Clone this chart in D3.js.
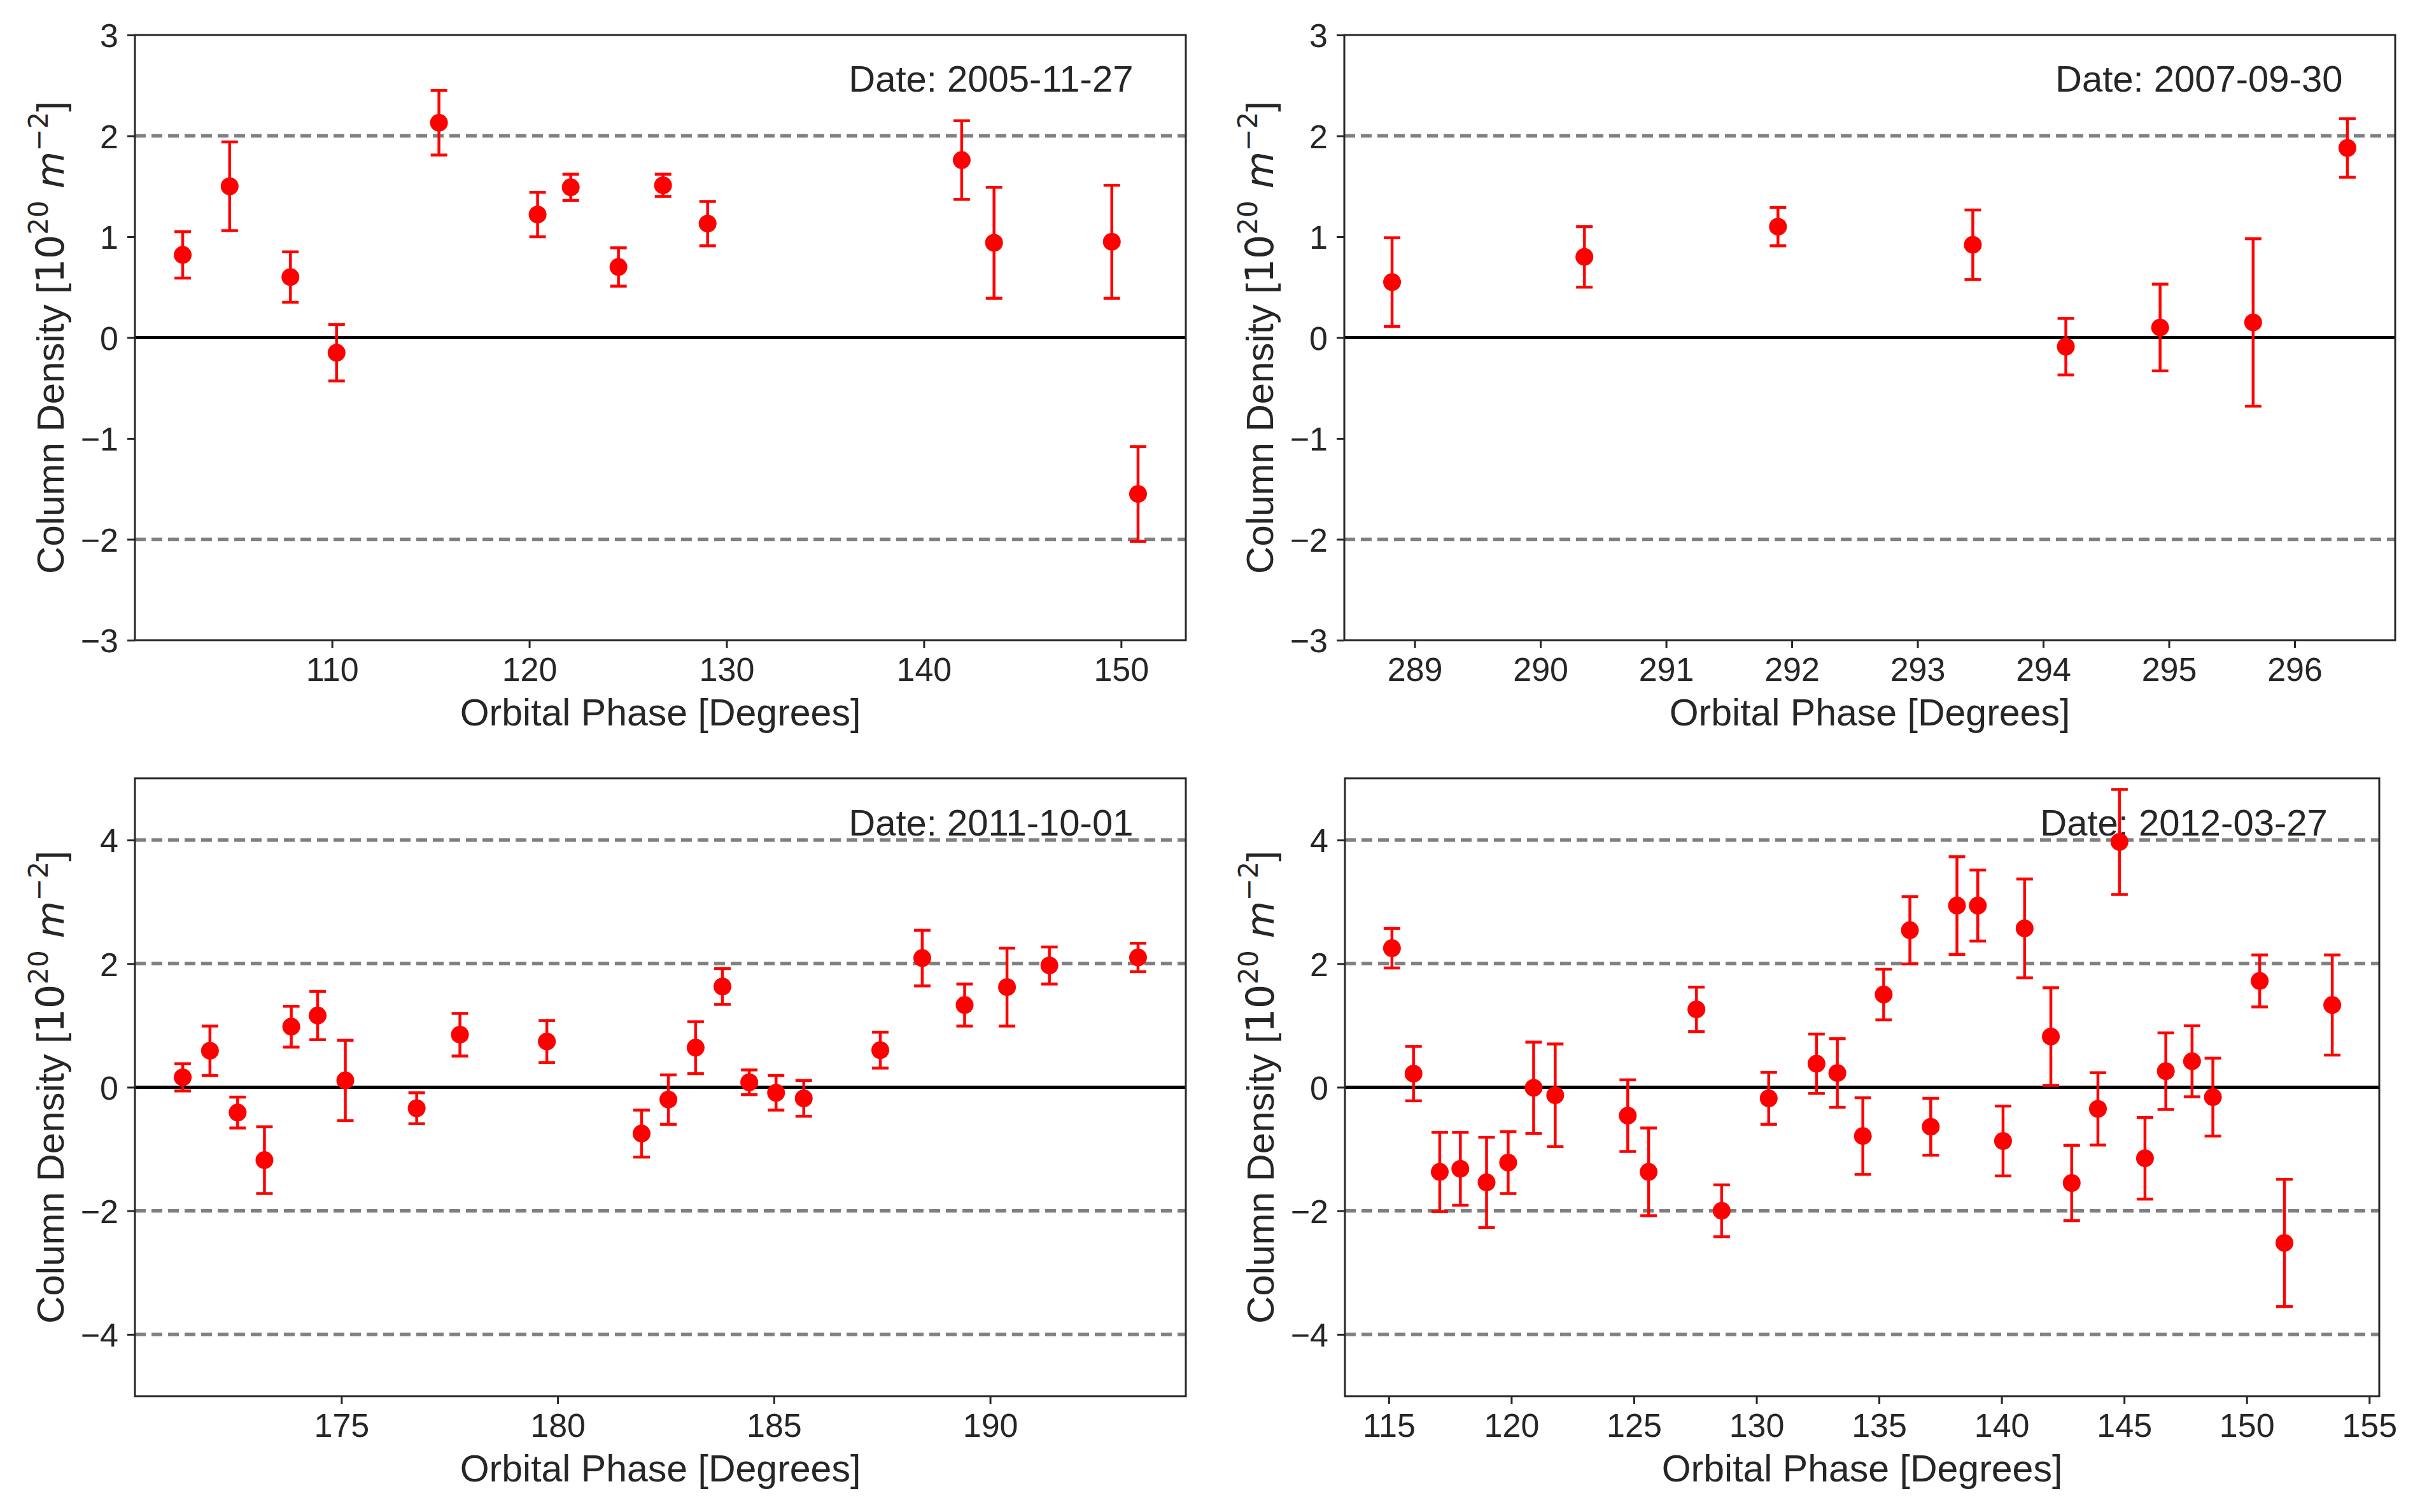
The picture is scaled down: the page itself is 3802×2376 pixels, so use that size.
<!DOCTYPE html>
<html>
<head>
<meta charset="utf-8">
<script src="https://cdn.jsdelivr.net/npm/d3@7"></script>
<style>
  html, body { margin: 0; padding: 0; background: white; }
</style>
</head>
<body>
<div id="chart"></div>
<script>
/* global d3 */

// 2005-11-27
var phase2005 = [102.43, 104.81, 107.89, 110.23, 115.42, 120.42, 122.10, 124.52, 126.78, 129.04, 141.92, 143.56, 149.53, 150.86];
var density2005 = [0.82, 1.50, 0.60, -0.15, 2.13, 1.22, 1.49, 0.70, 1.51, 1.13, 1.76, 0.94, 0.95, -1.55];
var error2005 = [0.23, 0.44, 0.25, 0.28, 0.32, 0.22, 0.13, 0.19, 0.11, 0.22, 0.39, 0.55, 0.56, 0.47];

// 2007-09-30
var phase2007 = [288.82, 290.35, 291.89, 293.44, 294.18, 294.93, 295.67, 296.42];
var density2007 = [0.55, 0.80, 1.10, 0.92, -0.09, 0.10, 0.15, 1.88];
var error2007 = [0.44, 0.30, 0.19, 0.345, 0.28, 0.43, 0.83, 0.29];

// 2011-10-01
var phase2011 = [171.33, 171.96, 172.60, 173.22, 173.84, 174.45, 175.09, 176.74, 177.74, 179.75, 181.94, 182.56,
  183.19, 183.81, 184.43, 185.05, 185.69, 187.46, 188.43, 189.41, 190.39, 191.37, 193.42];
var density2011 = [0.16, 0.59, -0.41, -1.18, 0.98, 1.16, 0.11, -0.34, 0.85, 0.74, -0.75, -0.20,
  0.64, 1.63, 0.08, -0.09, -0.18, 0.60, 2.09, 1.33, 1.62, 1.97, 2.10];
var error2011 = [0.22, 0.40, 0.25, 0.54, 0.33, 0.39, 0.65, 0.25, 0.345, 0.34, 0.38, 0.40,
  0.42, 0.29, 0.20, 0.28, 0.29, 0.29, 0.45, 0.34, 0.63, 0.30, 0.23];

// 2012-03-27
var phase2012 = [115.13, 116.01, 117.08, 117.92, 118.99, 119.87, 120.91, 121.79, 124.75, 125.60, 127.55, 128.58,
  130.50, 132.45, 133.30, 134.34, 135.19, 136.26, 137.11, 138.18, 139.03, 140.06, 140.94, 142.01,
  142.86, 143.93, 144.81, 145.85, 146.70, 147.77, 148.62, 150.53, 151.54, 153.49];
var density2012 = [2.25, 0.22, -1.37, -1.32, -1.54, -1.22, -0.01, -0.13, -0.46, -1.37, 1.26, -2.00,
  -0.18, 0.38, 0.23, -0.79, 1.50, 2.54, -0.64, 2.94, 2.94, -0.87, 2.57, 0.82,
  -1.55, -0.35, 3.97, -1.15, 0.26, 0.42, -0.16, 1.72, -2.52, 1.33];
var error2012 = [0.32, 0.44, 0.64, 0.59, 0.73, 0.50, 0.74, 0.83, 0.58, 0.71, 0.36, 0.42,
  0.42, 0.48, 0.555, 0.62, 0.41, 0.545, 0.46, 0.79, 0.575, 0.565, 0.80, 0.79,
  0.61, 0.585, 0.85, 0.66, 0.62, 0.575, 0.63, 0.42, 1.03, 0.81];

// ticks and reference lines
var xTicks2005 = [110, 120, 130, 140, 150];
var xTicks2007 = [289, 290, 291, 292, 293, 294, 295, 296];
var xTicks2011 = [175, 180, 185, 190];
var xTicks2012 = [115, 120, 125, 130, 135, 140, 145, 150, 155];
var yTicksTop = [-3, -2, -1, 0, 1, 2, 3];
var yTicksBottom = [-4, -2, 0, 2, 4];
var refLinesTop = [-2, 2];
var refLinesBottom = [-4, -2, 2, 4];

var cd = cd || {};

cd.WIDTH = 3802;
cd.HEIGHT = 2376;
cd.INK = '#262626';
cd.SANS = '"Liberation Sans", Arial, sans-serif';
cd.MATH = '"DejaVu Sans", sans-serif';

cd.init = function() {
  'use strict';

  cd.svg = d3.select('#chart')
    .append('svg')
    .attr('width', cd.WIDTH)
    .attr('height', cd.HEIGHT)
    .style('background', 'white');

  cd.drawPanel({ left: 212, right: 1863, top: 55, bottom: 1006 },
    '2005-11-27', phase2005, density2005, error2005, xTicks2005, [-3, 3], yTicksTop, refLinesTop);
  cd.drawPanel({ left: 2112, right: 3763, top: 55, bottom: 1006 },
    '2007-09-30', phase2007, density2007, error2007, xTicks2007, [-3, 3], yTicksTop, refLinesTop);
  cd.drawPanel({ left: 212, right: 1863, top: 1223, bottom: 2194 },
    '2011-10-01', phase2011, density2011, error2011, xTicks2011, [-5, 5], yTicksBottom, refLinesBottom);
  cd.drawPanel({ left: 2113, right: 3738, top: 1223, bottom: 2194 },
    '2012-03-27', phase2012, density2012, error2012, xTicks2012, [-5, 5], yTicksBottom, refLinesBottom);
};

cd.drawPanel = function(box, date, phase, density, error, xTicks, yDomain, yTicks, refLines) {
  'use strict';

  var w = box.right - box.left;
  var h = box.bottom - box.top;

  // matplotlib style 5% auto margin on x
  var ext = d3.extent(phase);
  var pad = (ext[1] - ext[0]) * 0.05;
  var x = d3.scaleLinear().domain([ext[0] - pad, ext[1] + pad]).range([0, w]);
  var y = d3.scaleLinear().domain(yDomain).range([h, 0]);

  var g = cd.svg.append('g')
    .attr('transform', 'translate(' + box.left + ',' + box.top + ')');

  // axes
  var xAxis = g.append('g')
    .attr('transform', 'translate(0,' + h + ')')
    .call(d3.axisBottom(x).tickValues(xTicks).tickFormat(d3.format('d'))
      .tickSize(12).tickPadding(15));
  var yAxis = g.append('g')
    .call(d3.axisLeft(y).tickValues(yTicks).tickFormat(d3.format('d'))
      .tickSize(12).tickPadding(14));

  [xAxis, yAxis].forEach(function(ax) {
    ax.select('.domain').remove();
    ax.selectAll('line').attr('stroke', cd.INK).attr('stroke-width', 3);
    ax.selectAll('text')
      .attr('fill', cd.INK)
      .style('font-family', cd.SANS)
      .style('font-size', '52px');
  });
  yAxis.selectAll('text').attr('dy', '0.36em');

  // dashed reference lines and zero line
  g.selectAll('.ref')
    .data(refLines)
    .enter()
    .append('line')
    .attr('x1', 0)
    .attr('x2', w)
    .attr('y1', function(d) { return y(d); })
    .attr('y2', function(d) { return y(d); })
    .attr('stroke', 'gray')
    .attr('stroke-width', 5.5)
    .attr('stroke-dasharray', '17,9');

  g.append('line')
    .attr('x1', 0)
    .attr('x2', w)
    .attr('y1', y(0))
    .attr('y2', y(0))
    .attr('stroke', 'black')
    .attr('stroke-width', 5);

  // date label
  g.append('text')
    .attr('x', w * 0.95)
    .attr('y', h * 0.05 + 41)
    .attr('text-anchor', 'end')
    .attr('fill', cd.INK)
    .style('font-family', cd.SANS)
    .style('font-size', '58px')
    .text('Date: ' + date);

  // error bars
  var pts = phase.map(function(p, i) {
    return { x: p, y: density[i], e: error[i] };
  });

  var bars = g.selectAll('.bar')
    .data(pts)
    .enter()
    .append('g')
    .attr('stroke', 'red')
    .attr('stroke-width', 4.5);

  bars.append('line')
    .attr('x1', function(d) { return x(d.x); })
    .attr('x2', function(d) { return x(d.x); })
    .attr('y1', function(d) { return y(d.y + d.e); })
    .attr('y2', function(d) { return y(d.y - d.e); });

  bars.append('line')
    .attr('x1', function(d) { return x(d.x) - 13; })
    .attr('x2', function(d) { return x(d.x) + 13; })
    .attr('y1', function(d) { return y(d.y + d.e); })
    .attr('y2', function(d) { return y(d.y + d.e); });

  bars.append('line')
    .attr('x1', function(d) { return x(d.x) - 13; })
    .attr('x2', function(d) { return x(d.x) + 13; })
    .attr('y1', function(d) { return y(d.y - d.e); })
    .attr('y2', function(d) { return y(d.y - d.e); });

  g.selectAll('.dot')
    .data(pts)
    .enter()
    .append('circle')
    .attr('cx', function(d) { return x(d.x); })
    .attr('cy', function(d) { return y(d.y); })
    .attr('r', 14)
    .attr('fill', 'red');

  // frame
  g.append('rect')
    .attr('width', w)
    .attr('height', h)
    .attr('fill', 'none')
    .attr('stroke', cd.INK)
    .attr('stroke-width', 3);

  // axis labels
  g.append('text')
    .attr('x', w / 2)
    .attr('y', h + 134)
    .attr('text-anchor', 'middle')
    .attr('fill', cd.INK)
    .style('font-family', cd.SANS)
    .style('font-size', '59px')
    .text('Orbital Phase [Degrees]');

  var yl = g.append('text')
    .attr('transform', 'translate(-112,' + (h / 2) + ') rotate(-90)')
    .attr('text-anchor', 'middle')
    .attr('fill', cd.INK)
    .style('font-family', cd.SANS)
    .style('font-size', '60px');

  yl.append('tspan').text('Column Density [');
  yl.append('tspan').style('font-family', cd.MATH).text('10');
  yl.append('tspan').style('font-family', cd.MATH).style('font-size', '42px')
    .attr('dy', -25).text('20');
  yl.append('tspan').style('font-family', cd.MATH).attr('dy', 25).text(' ');
  yl.append('tspan').style('font-family', cd.MATH).style('font-style', 'italic').text('m');
  yl.append('tspan').style('font-family', cd.MATH).style('font-size', '42px')
    .attr('dy', -25).text('\u2212' + '2');
  yl.append('tspan').attr('dy', 25).text(']');
};

cd.init();
</script>
</body>
</html>
